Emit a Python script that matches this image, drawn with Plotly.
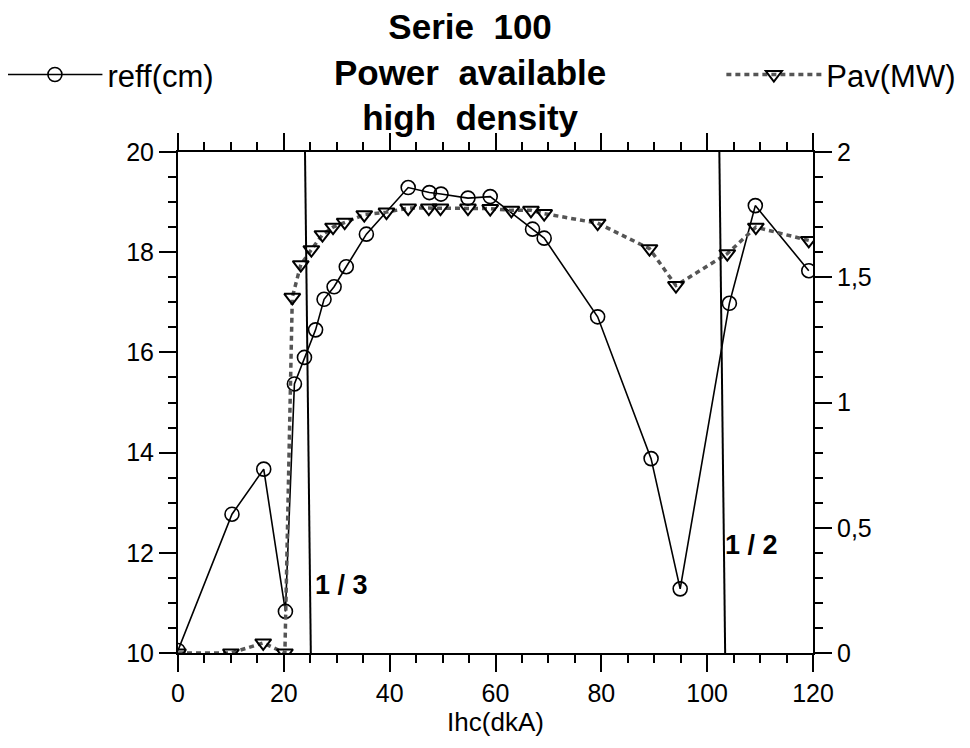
import plotly.graph_objects as go

# ---- data ----
ihc_reff = [0, 10.2, 16.2, 20.3, 22.0, 23.9, 26.0, 27.6, 29.5, 31.8, 35.6, 43.5, 47.5,
            49.7, 54.8, 59.0, 67.0, 69.2, 79.3, 89.4, 94.9, 104.2, 109.1, 119.2]
reff_cm = [10.05, 12.77, 13.67, 10.83, 15.37, 15.9, 16.45, 17.06, 17.31, 17.71, 18.36, 19.29, 19.19,
           19.16, 19.08, 19.11, 18.46, 18.28, 16.71, 13.88, 11.28, 16.98, 18.93, 17.63]

ihc_pav = [0, 10.0, 16.1, 20.2, 21.6, 23.2, 25.2, 27.3, 29.3, 31.5, 35.2, 39.4, 43.5,
           47.4, 49.6, 54.8, 59.0, 63.0, 66.7, 69.2, 79.3, 89.1, 94.1, 103.8, 109.2, 119.2]
pav_mw = [0, 0, 0.04, 0, 1.42, 1.55, 1.61, 1.67, 1.70, 1.72, 1.75, 1.76, 1.776,
          1.776, 1.776, 1.776, 1.774, 1.767, 1.767, 1.754, 1.716, 1.614, 1.467, 1.594, 1.70, 1.647]

# resonance markers (vertical lines, slightly slanted as in the scan)
resonance_top = [24.0, 102.3]
resonance_bottom = [25.1, 103.4]
resonance_labels = ["1 / 3", "1 / 2"]
resonance_label_x = [25.5, 103.0]
resonance_label_y = [11.35, 12.15]

title_lines = ["Serie  100", "Power  available", "high  density"]

FONT = "Liberation Sans, Arial, Helvetica, sans-serif"

fig = go.Figure()

fig.add_trace(go.Scatter(
    x=ihc_reff, y=reff_cm, name="reff(cm)", mode="lines+markers",
    line=dict(color="black", width=1.6),
    marker=dict(symbol="circle-open", size=14, color="black", line=dict(width=1.6)),
    yaxis="y", legend="legend",
))

fig.add_trace(go.Scatter(
    x=ihc_pav, y=pav_mw, name="Pav(MW)", mode="lines+markers",
    line=dict(color="#555555", width=3.5, dash="5px,4px"),
    marker=dict(symbol="triangle-down-open", size=14, color="black", line=dict(width=2)),
    yaxis="y2", legend="legend2",
))

shapes = []
annotations = []
for xt, xb, lab, lx, ly in zip(resonance_top, resonance_bottom, resonance_labels,
                               resonance_label_x, resonance_label_y):
    shapes.append(dict(type="line", xref="x", yref="y domain", x0=xb, y0=0, x1=xt, y1=1,
                       line=dict(color="black", width=2)))
    annotations.append(dict(x=lx, y=ly, xref="x", yref="y", text="<b>%s</b>" % lab,
                            showarrow=False, xanchor="left", yanchor="middle",
                            font=dict(family=FONT, size=27, color="black")))

tick_font = dict(family=FONT, size=25, color="black")

fig.update_layout(
    width=970, height=748,
    margin=dict(l=170, r=165, t=144, b=103, autoexpand=False),
    paper_bgcolor="white", plot_bgcolor="white",
    separators=", ",
    font=dict(family=FONT, color="black"),
    title=dict(text="<br>".join("<b>%s</b>" % t for t in title_lines),
               x=0.46, xref="paper", xanchor="center",
               y=0.958, yref="container", yanchor="top",
               font=dict(family=FONT, size=35, color="black")),
    showlegend=True,
    legend=dict(x=-0.2765, xref="paper", y=1.154, yref="paper", xanchor="left", yanchor="middle",
                bgcolor="rgba(0,0,0,0)", itemwidth=95,
                font=dict(family=FONT, size=31, color="black")),
    legend2=dict(x=0.8557, xref="paper", y=1.154, yref="paper", xanchor="left", yanchor="middle",
                 bgcolor="rgba(0,0,0,0)", itemwidth=95,
                 font=dict(family=FONT, size=31, color="black")),
    xaxis=dict(range=[0, 120], dtick=20, tick0=0, ticks="outside", ticklen=17, tickwidth=2,
               tickcolor="black", showline=True, linewidth=2, linecolor="black",
               mirror="ticks", showgrid=False, zeroline=False, tickfont=tick_font,
               minor=dict(dtick=5, ticks="outside", ticklen=8, tickwidth=1.5, tickcolor="black",
                          showgrid=False),
               title=dict(text="Ihc(dkA)", font=dict(family=FONT, size=26, color="black"),
                          standoff=2)),
    yaxis=dict(range=[10, 20], dtick=2, tick0=10, ticks="outside", ticklen=17, tickwidth=2,
               tickcolor="black", showline=True, linewidth=2, linecolor="black",
               showgrid=False, zeroline=False, tickfont=tick_font,
               minor=dict(dtick=0.5, ticks="outside", ticklen=8, tickwidth=1.5, tickcolor="black",
                          showgrid=False)),
    yaxis2=dict(range=[0, 2], dtick=0.5, tick0=0, overlaying="y", side="right",
                ticks="outside", ticklen=17, tickwidth=2, tickcolor="black",
                showline=True, linewidth=2, linecolor="black",
                showgrid=False, zeroline=False, tickfont=tick_font,
                minor=dict(dtick=0.1, ticks="outside", ticklen=8, tickwidth=1.5, tickcolor="black",
                           showgrid=False)),
    shapes=shapes,
    annotations=annotations,
)

fig.write_html("out.html")
